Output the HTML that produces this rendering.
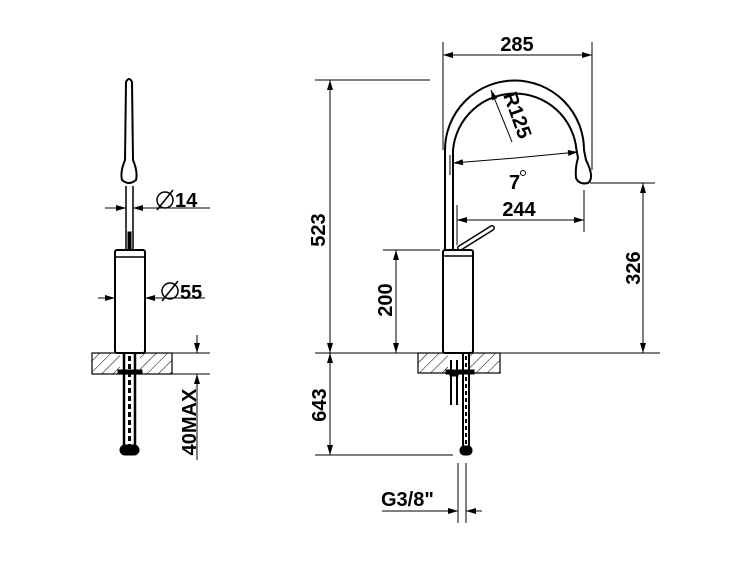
<!DOCTYPE html>
<html><head><meta charset="utf-8"><style>html,body{margin:0;background:#fff}svg{display:block}text{font-family:"Liberation Sans",sans-serif;font-weight:bold;font-size:20px;fill:#000}</style></head><body>
<svg width="750" height="563" viewBox="0 0 750 563" xmlns="http://www.w3.org/2000/svg">
<defs>
<pattern id="h" width="8" height="8" patternUnits="userSpaceOnUse" patternTransform="rotate(45)"><line x1="0" y1="0" x2="0" y2="8" stroke="#000" stroke-width="1"/></pattern>
<marker id="a" viewBox="0 0 10 6" refX="10" refY="3" markerWidth="11" markerHeight="6" orient="auto-start-reverse" markerUnits="userSpaceOnUse"><path d="M0,0 L10,3 L0,6z"/></marker>
</defs>
<g stroke="#000" fill="none" stroke-width="1">
<!-- LEFT VIEW -->
<rect x="92" y="353" width="80" height="21" fill="url(#h)" stroke-width="1.2"/>
<rect x="120" y="353" width="20" height="21" fill="#fff" stroke="none"/>
<line x1="172" y1="353" x2="210" y2="353"/><line x1="172" y1="374" x2="210" y2="374"/>
<path d="M126,82 Q129,76 132,82 L133,160 Q138,172 136,180 Q129,186 122,180 Q120,172 125,160 Z" stroke-width="2" fill="#fff"/>
<path d="M126,186 L126,250 M133,186 L133,250" stroke-width="1.5"/>
<rect x="128" y="232" width="3" height="18" fill="#000"/>
<rect x="115" y="250" width="30" height="103" rx="2" stroke-width="2" fill="#fff"/>
<line x1="115" y1="257" x2="145" y2="257" stroke-width="1.5"/>
<path d="M124,353 V448 M135,353 V448" stroke-width="2.5"/>
<path d="M129.5,356 V448" stroke-width="3" stroke-dasharray="5,3"/>
<rect x="120" y="445" width="19" height="10" rx="5" fill="#000"/>
<rect x="118" y="370" width="24" height="4" fill="#000"/>
<line x1="105" y1="208" x2="126" y2="208" marker-end="url(#a)"/><line x1="210" y1="208" x2="133" y2="208" marker-end="url(#a)"/>
<line x1="98" y1="298" x2="115" y2="298" marker-end="url(#a)"/><line x1="205" y1="298" x2="145" y2="298" marker-end="url(#a)"/>
<line x1="197" y1="335" x2="197" y2="353" marker-end="url(#a)"/><line x1="197" y1="460" x2="197" y2="374" marker-end="url(#a)"/>
<circle cx="165" cy="200" r="8" stroke-width="1.5"/><line x1="157" y1="210" x2="173" y2="190" stroke-width="1.5"/>
<circle cx="170" cy="291" r="8" stroke-width="1.5"/><line x1="162" y1="301" x2="178" y2="281" stroke-width="1.5"/>
<!-- RIGHT VIEW -->
<line x1="315" y1="353" x2="660" y2="353"/>
<rect x="418" y="353" width="82" height="20" fill="url(#h)" stroke-width="1.2"/>
<rect x="448" y="353" width="22" height="20" fill="#fff" stroke="none"/>
<path d="M445,250 L445,150 A69.5,69.5 0 0 1 584,150 L586,160 Q595,178 588,183 Q579,185 576,178 Q575,168 578,158 L576.5,150 A62,62 0 0 0 453,150 L453,250" stroke-width="2" fill="none"/>
<path d="M460,248 L492,228" stroke-width="6" stroke-linecap="round"/>
<path d="M460,248 L492,228" stroke-width="3" stroke="#fff" stroke-linecap="round"/>
<rect x="443" y="250" width="30" height="103" rx="2" stroke-width="2" fill="#fff"/>
<line x1="443" y1="256" x2="473" y2="256" stroke-width="1.5"/>
<path d="M451,360 V405 M457,360 V405" stroke-width="2"/>
<rect x="450" y="372" width="8" height="4" fill="#000"/>
<path d="M463,353 V448 M469,353 V448" stroke-width="2"/>
<path d="M466,356 V448" stroke-width="2" stroke-dasharray="4,3"/>
<rect x="460" y="446" width="12" height="9" rx="4" fill="#000"/>
<rect x="446" y="370" width="28" height="4" fill="#000"/>
<!-- dims -->
<line x1="443" y1="42" x2="443" y2="150"/><line x1="592" y1="42" x2="592" y2="170"/>
<line x1="470" y1="55" x2="443" y2="55" marker-end="url(#a)"/><line x1="560" y1="55" x2="592" y2="55" marker-end="url(#a)"/>
<line x1="460" y1="55" x2="580" y2="55"/>
<line x1="315" y1="80" x2="430" y2="80"/>
<line x1="330" y1="200" x2="330" y2="80" marker-end="url(#a)"/><line x1="330" y1="200" x2="330" y2="353" marker-end="url(#a)"/>
<line x1="383" y1="250" x2="440" y2="250"/>
<line x1="396" y1="300" x2="396" y2="250" marker-end="url(#a)"/><line x1="396" y1="300" x2="396" y2="353" marker-end="url(#a)"/>
<line x1="590" y1="183" x2="655" y2="183"/>
<line x1="643" y1="260" x2="643" y2="183" marker-end="url(#a)"/><line x1="643" y1="260" x2="643" y2="353" marker-end="url(#a)"/>
<line x1="315" y1="455" x2="453" y2="455"/>
<line x1="330" y1="400" x2="330" y2="353" marker-end="url(#a)"/><line x1="330" y1="400" x2="330" y2="455" marker-end="url(#a)"/>
<line x1="457" y1="205" x2="457" y2="245"/><line x1="584" y1="190" x2="584" y2="232"/>
<line x1="520" y1="220" x2="457" y2="220" marker-end="url(#a)"/><line x1="520" y1="220" x2="584" y2="220" marker-end="url(#a)"/>
<line x1="450" y1="155" x2="450" y2="175"/>
<path d="M515,158 L453,163" marker-end="url(#a)"/><path d="M515,158 L578,152" marker-end="url(#a)"/>
<line x1="512" y1="142" x2="491" y2="90" marker-end="url(#a)"/>
<line x1="458" y1="463" x2="458" y2="523"/><line x1="466" y1="463" x2="466" y2="523"/>
<line x1="382" y1="511" x2="458" y2="511" marker-end="url(#a)"/><line x1="482" y1="511" x2="466" y2="511" marker-end="url(#a)"/>
</g>
<text x="175" y="207">14</text>
<text x="180" y="299">55</text>
<text transform="translate(196,422) rotate(-90)" text-anchor="middle">40MAX</text>
<text x="517" y="51" text-anchor="middle">285</text>
<text transform="translate(325,230) rotate(-90)" text-anchor="middle">523</text>
<text transform="translate(392,300) rotate(-90)" text-anchor="middle">200</text>
<text transform="translate(640,268) rotate(-90)" text-anchor="middle">326</text>
<text transform="translate(326,405) rotate(-90)" text-anchor="middle">643</text>
<text x="519" y="216" text-anchor="middle">244</text>
<text x="509" y="189">7</text><circle cx="523" cy="173" r="2.5" fill="none" stroke="#000"/>
<text transform="translate(503,95) rotate(70)">R125</text>
<text x="381" y="506">G3/8"</text>
</svg>
</body></html>
